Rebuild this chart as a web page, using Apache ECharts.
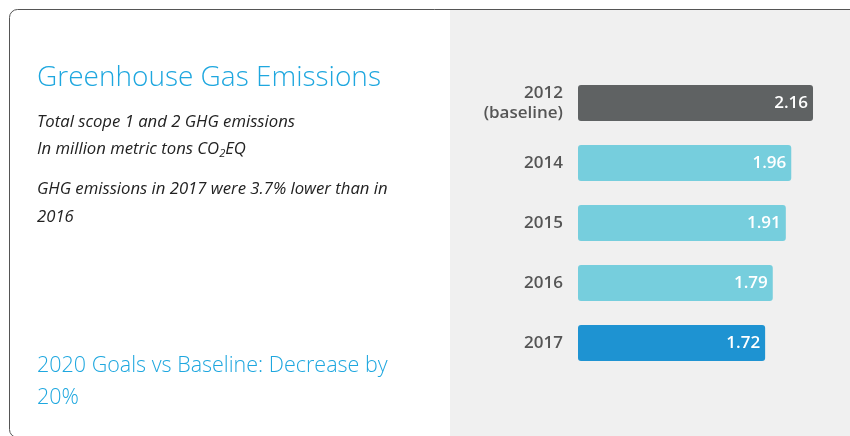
<!DOCTYPE html>
<html><head><meta charset="utf-8">
<script src="https://cdn.jsdelivr.net/npm/echarts@6/dist/echarts.min.js"></script>
<style>html,body{margin:0;padding:0;background:#fff}#c{width:850px;height:436px}</style>
</head><body><div id="c"></div>
<script>
const categories = ['2012\n(baseline)', '2014', '2015', '2016', '2017'];
const values = [2.16, 1.96, 1.91, 1.79, 1.72];
const barColors = ['#5f6263', '#76cedd', '#76cedd', '#76cedd', '#1e93d2'];
const title = 'Greenhouse Gas Emissions';
const goal = ['2020 Goals vs Baseline: Decrease by', '20%'];

const chart = echarts.init(document.getElementById('c'), null, {renderer: 'canvas'});
const F = '"Open Sans", sans-serif';
chart.setOption({
  animation: false,
  backgroundColor: '#fff',
  graphic: [
    {type: 'rect', z: -10, shape: {x: 450, y: 9.5, width: 420, height: 440}, style: {fill: '#f0f0f0'}},
    {type: 'rect', z: -5, shape: {x: 9.5, y: 9.5, width: 900, height: 428, r: 8}, style: {fill: 'none', stroke: '#555', lineWidth: 1}},
    {type: 'text', left: 37, top: 64, style: {text: title, font: '300 28px ' + F, fill: '#1ea7df'}},
    {type: 'text', left: 37, top: 109, style: {
      text: 'Total scope 1 and 2 GHG emissions\nIn million metric tons CO{s|2}EQ',
      font: 'italic 16.7px ' + F, fill: '#222', lineHeight: 27,
      rich: {s: {font: 'italic 11px ' + F, fill: '#222', padding: [8, 0, 0, 0]}}
    }},
    {type: 'text', left: 37, top: 175, style: {
      text: 'GHG emissions in 2017 were 3.7% lower than in\n2016',
      font: 'italic 16.7px ' + F, fill: '#222', lineHeight: 28
    }},
    {type: 'text', left: 37, top: 350, style: {
      text: goal.join('\n'), font: '300 21.5px ' + F, fill: '#1ea7df', lineHeight: 32
    }}
  ],
  grid: {left: 578, top: 73, width: 272, height: 300, containLabel: false},
  xAxis: {type: 'value', min: 0, max: 2.5, show: false},
  yAxis: {
    type: 'category', data: categories, inverse: true,
    axisLine: {show: false}, axisTick: {show: false}, splitLine: {show: false},
    axisLabel: {margin: 15, color: '#555', fontFamily: F, fontWeight: 600, fontSize: 17, lineHeight: 20, align: 'right'}
  },
  series: [{
    type: 'bar', barWidth: 36,
    data: values.map((v, i) => ({value: v, itemStyle: {color: barColors[i], borderRadius: 3}})),
    label: {show: true, position: 'insideRight', distance: 5, color: '#fff', fontFamily: F, fontWeight: 600, fontSize: 17,
      formatter: p => p.value.toFixed(2)}
  }]
});
</script></body></html>
